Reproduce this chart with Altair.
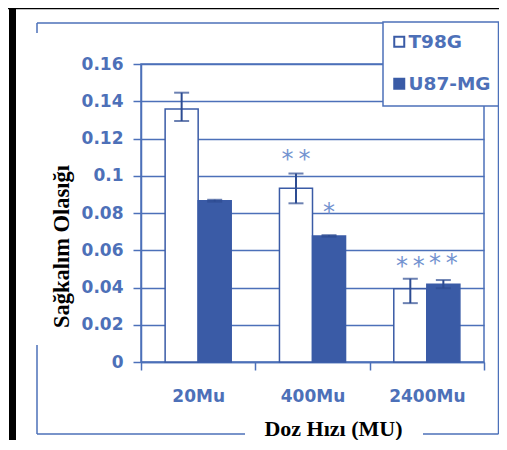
import altair as alt
import pandas as pd

# ---- data ----
doses = ["20Mu", "400Mu", "2400Mu"]
series = ["T98G", "U87-MG"]
t98g_mean = [0.1358, 0.0933, 0.0393]
t98g_low = [0.1294, 0.0852, 0.0316]
t98g_high = [0.1446, 0.1012, 0.0447]
u87_mean = [0.0866, 0.0677, 0.0417]
u87_low = [0.0861, 0.0673, 0.0396]
u87_high = [0.0871, 0.0681, 0.0440]
sig_t98g = ["", "**", "**"]
sig_u87 = ["", "*", "**"]
sig_t98g_level = [None, 0.1111, 0.0537]
sig_u87_level = [None, 0.0827, 0.0553]
y_ticks = [0, 0.02, 0.04, 0.06, 0.08, 0.1, 0.12, 0.14, 0.16]

rows = []
for i, d in enumerate(doses):
    rows.append(dict(dose=d, series="T98G", mean=t98g_mean[i], lo=t98g_low[i], hi=t98g_high[i],
                     sig=sig_t98g[i], level=sig_t98g_level[i]))
    rows.append(dict(dose=d, series="U87-MG", mean=u87_mean[i], lo=u87_low[i], hi=u87_high[i],
                     sig=sig_u87[i], level=sig_u87_level[i]))
df = pd.DataFrame(rows)
df_sig = df[df["sig"] != ""].copy()

# ---- styles ----
BAR = "#3a5ba6"
LINE = "#4c70b9"
TXT = "#4d70b8"
ERR = "#2d4c92"
STAR = "#7393d0"
SANS = "DejaVu Sans"

yscale = alt.Scale(domain=[0, 0.16], nice=False, zero=True)
xscale = alt.Scale(paddingInner=0, paddingOuter=0)
xoscale = alt.Scale(paddingInner=0, paddingOuter=0.73)

x_axis = alt.Axis(
    title="Doz Hızı (MU)", labelAngle=0, tickBand="extent", tickSize=8, tickWidth=1.5,
    tickColor=LINE, domainColor=LINE, domainWidth=1.5, grid=False,
    labelColor=TXT, labelFont=SANS, labelFontSize=17, labelFontWeight="bold",
    labelBaseline="alphabetic", labelPadding=31,
    titleFont="Liberation Serif", titleFontWeight="bold", titleFontSize=22,
    titleColor="black", titleX=192, titleY=73, titleBaseline="alphabetic", titleAlign="center",
)
y_axis = alt.Axis(
    title="Sağkalım Olasığı", values=y_ticks, format="~g", tickSize=8, tickWidth=1.5,
    tickColor=LINE, domainColor=LINE, domainWidth=1.5, grid=True, gridColor=LINE, gridWidth=1.5,
    labelColor=TXT, labelFont=SANS, labelFontSize=17, labelFontWeight="bold", labelPadding=10,
    titleFont="Liberation Serif", titleFontWeight="bold", titleFontSize=22.5, titleColor="black",
    titleAngle=270, titleX=-72.5, titleY=182, titleBaseline="alphabetic", titleAlign="center",
)

X = alt.X("dose:N", sort=doses, scale=xscale, axis=x_axis)
XO = alt.XOffset("series:N", sort=series, scale=xoscale)


def Y(field):
    return alt.Y(field, scale=yscale, axis=y_axis)


bars = alt.Chart(df).mark_bar(stroke=BAR, strokeWidth=1.5).encode(
    x=X, xOffset=XO, y=Y("mean:Q"),
    fill=alt.Fill("series:N", sort=series,
                  scale=alt.Scale(domain=series, range=["white", BAR]),
                  legend=alt.Legend(title=None, orient="none", legendX=249, legendY=-31.5,
                                    symbolType="square", symbolSize=100,
                                    symbolStrokeColor=BAR, symbolStrokeWidth=2,
                                    symbolOpacity=1,
                                    labelFont=SANS, labelFontSize=18.5, labelFontWeight="bold",
                                    labelColor=TXT,
                                    labelOffset=0, rowPadding=23, padding=0)),
)

err = alt.Chart(df).mark_rule(color=ERR, strokeWidth=2).encode(
    x=X, xOffset=XO, y=Y("lo:Q"), y2="hi:Q")
cap_hi = alt.Chart(df).mark_tick(color=ERR, thickness=2, size=15, orient="horizontal").encode(
    x=X, xOffset=XO, y=Y("hi:Q"))
cap_lo = alt.Chart(df).mark_tick(color=ERR, thickness=2, size=15, orient="horizontal").encode(
    x=X, xOffset=XO, y=Y("lo:Q"))

stars = alt.Chart(df_sig).transform_calculate(
    disp="replace(datum.sig, '**', '*\u2009*')"
).mark_text(font=SANS, fontSize=24, color=STAR, baseline="alphabetic", dy=12).encode(
    x=X, xOffset=XO, y=Y("level:Q"), text="disp:N")

one = pd.DataFrame({"k": [0]})


def seg(x1, x2, y1, y2, color=LINE, w=1.5):
    return alt.Chart(one).mark_rule(color=color, strokeWidth=w).encode(
        x=alt.value(x1), x2=alt.value(x2), y=alt.value(y1), y2=alt.value(y2))


def box(x1, x2, y1, y2, fill, stroke=None, w=1.5):
    kw = dict(fill=fill)
    if stroke:
        kw.update(stroke=stroke, strokeWidth=w)
    return alt.Chart(one).mark_rect(**kw).encode(
        x=alt.value(x1), x2=alt.value(x2), y=alt.value(y1), y2=alt.value(y2))


# decoration (plot-relative pixels): outer frame, black borders, legend box
R = 357.5
deco = [
    box(-132, -125, -56, 378, "black"),
    box(-133, 358, -56, -54.7, "black"),
    seg(-104, R, -41, -41),
    seg(R, R, -41, 370),
    seg(-104, 104, 370, 370),
    seg(282, R, 370, 370),
    seg(-104, -104, -41, -31),
    seg(-104, -104, 281, 370),
    box(242, R, -42, 42, "white", LINE, 1.5),
]

chart = alt.layer(*deco, bars, err, cap_hi, cap_lo, stars).properties(
    width=343, height=298,
    autosize=alt.AutoSizeParams(type="none"),
    padding={"left": 133, "top": 56, "right": 15, "bottom": 78},
    background="white",
).configure_view(stroke=LINE, strokeWidth=1.5)

chart.save("out.html", embed_options={"renderer": "svg", "actions": False})
